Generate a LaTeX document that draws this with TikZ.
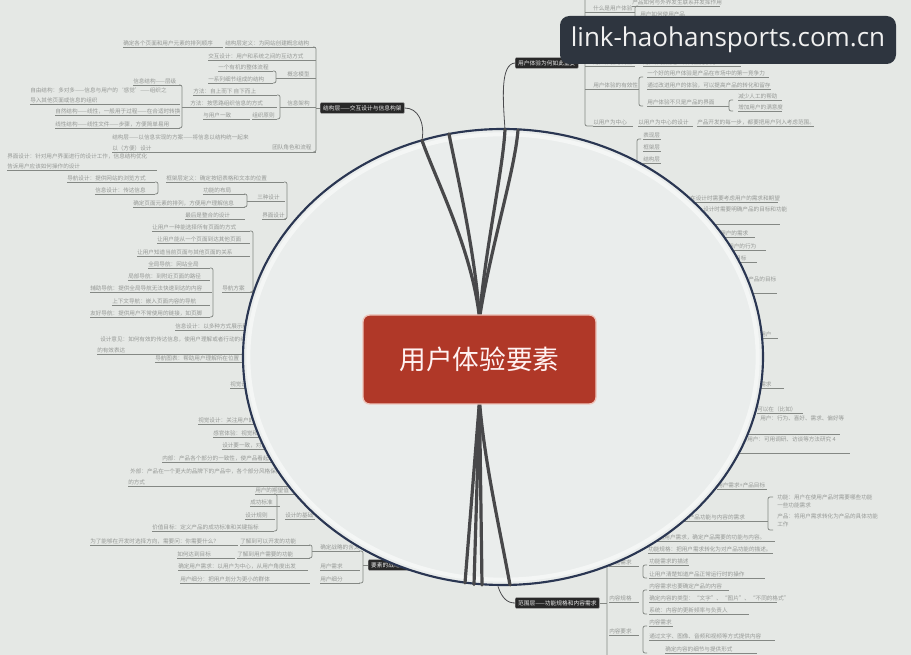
\documentclass[tikz,border=0pt]{standalone}
\usepackage{fontspec}
\setmainfont{Noto Sans CJK SC}
\newfontfamily\wmfont{Open Sans}
\usetikzlibrary{shapes.geometric}
\definecolor{bg}{RGB}{229,232,229}
\definecolor{inner}{RGB}{234,237,236}
\definecolor{ringc}{RGB}{42,54,82}
\definecolor{thk}{RGB}{72,72,74}
\definecolor{itemgray}{RGB}{150,153,150}
\definecolor{ulgray}{RGB}{132,136,132}
\definecolor{boxred}{RGB}{176,56,40}
\definecolor{boxedge}{RGB}{238,196,186}
\definecolor{labfill}{RGB}{40,40,40}
\definecolor{wmfill}{RGB}{46,53,63}
\definecolor{connc}{RGB}{75,75,78}
\begin{document}
\begin{tikzpicture}[x=0.75pt,y=-0.75pt,
  itm/.style={anchor=base west,inner sep=0pt,font=\fontsize{4.2}{5}\selectfont,text=itemgray},
  uline/.style={draw=ulgray,line width=0.55pt},
  brk/.style={draw=ulgray,line width=0.55pt,rounded corners=1.5pt},
  darklab/.style={anchor=west,fill=labfill,draw=gray!70,line width=0.3pt,text=white!92!black,
    font=\fontsize{4.3}{5}\selectfont,inner xsep=2.2pt,inner ysep=2pt,rounded corners=0.8pt},
  conn/.style={draw=connc,line width=0.6pt},
  thick line/.style={draw=thk,line width=2.4pt,line cap=round},
  boxst/.style={fill=boxred,draw=boxedge,line width=1pt,rounded corners=5pt,
    minimum width=174.75pt,minimum height=66.75pt,text=white!95!red,font=\fontsize{20}{24}\selectfont},
  wmst/.style={fill=wmfill,rounded corners=7pt,minimum width=252pt,minimum height=36pt,
    text=white!94!black,font=\wmfont\fontsize{19.5}{22}\selectfont}
]
\fill[bg] (0,0) rectangle (911,655);
\useasboundingbox (0,0) rectangle (911,655);

% ---------- underlined items ----------
\foreach \x/\y/\w/\tx [count=\i] in {
 123/47/100/确定各个页面和用户元素的排列顺序,
 225/47/91/结构层定义：为网站创建概念结构,
 208/60/108/交互设计：用户和系统之间的互动方式,
 218/71/55/一个有机的整体流程,
 208/83/65/一系列细节组成的结构,
 287/78/29/概念模型,
 193/95/84/方法：自上而下 自下而上,
 190/107/87/方法：按思路组织信息的方式,
 203/119/47/与用户一致,
 252/119/25/组织原则,
 287/107/29/信息架构,
 133/85/48/信息结构——层级,
 30/104/150/导入其他页面或信息的组织,
 55/115/125/自然结构——线性，一般用于过程——在合适时转换,
 55/128/125/线性结构——线性文件——步骤，方便简单易用,
 112/152/204/以（方便）设计,
 7/170/150/告诉用户应该如何操作的设计,
 67/182/88/导航设计：提供网站的浏览方式,
 95/194/60/信息设计：传达信息,
 166/182/118/框架层定义：确定按钮表格和文本的位置,
 203/194/42/功能的布局,
 257/201/28/三种设计,
 133/207/112/确定页面元素的排列，方便用户理解信息,
 185/219/60/最后是整合的设计,
 262/219/24/界面设计,
 152/231/98/让用户一种能选择所有页面的方式,
 157/243/93/让用户能从一个页面到达其他页面,
 137/256/113/让用户知道当前页面与其他页面的关系,
 148/268/62/全局导航：网站全局,
 128/280/82/局部导航：到附近页面的路径,
 90/292/122/辅助导航：提供全局导航无法快速到达的内容,
 222/292/31/导航方案,
 112/305/98/上下文导航：嵌入页面内容的导航,
 90/317/120/友好导航：提供用户不常使用的链接，如页脚,
 175/330/80/信息设计：以多种方式展示和传达信息,
 97/354/150/的有效表达,
 155/362/95/导航图表：帮助用户理解所在位置,
 230/388/20/视觉设计,
 198/424/65/视觉设计：关注用户的感知,
 213/437/55/感官体验：视觉和听觉,
 222/449/50/设计要一致，对比与统一,
 162/462/115/内部：产品各个部分的一致性，使产品看起来更统一,
 128/486/165/的方式,
 255/494/40/用户的期望值,
 250/506/30/成功标准,
 245/519/30/设计规则,
 285/519/30/设计的基础,
 152/531/122/价值目标：定义产品的成功标准和关键指标,
 90/545/148/为了能够在开发时选择方向，需要问：你需要什么？,
 240/545/70/了解到可以开发的功能,
 177/558/58/如何达到目标,
 237/558/73/了解到用户需要的功能,
 320/551/40/确定战略的含义,
 178/570/130/确定用户需求：以用户为中心，从用户角度出发,
 320/570/40/用户需求,
 180/583/130/用户细分：把用户划分为更小的群体,
 320/583/40/用户细分,
 632/6/88/产品如何与外界发生联系并发挥作用,
 593/12/36/什么是用户体验,
 640/18/55/用户如何使用产品,
 593/66/42/用户体验与商业,
 643/66/98/用户体验就是一种商业竞争力,
 647/77/122/一个好的用户体验是产品在市场中的第一竞争力,
 593/89/42/用户体验的有效性,
 647/89/124/通过改进用户的体验，可以提高产品的转化和留存,
 647/106/82/用户体验不只是产品的界面,
 738/100/44/减少人工的帮助,
 738/111/44/增加用户的满意度,
 593/126/40/以用户为中心,
 638/126/55/以用户为中心的设计,
 697/126/117/产品开发的每一步，都要把用户列入考虑范围。,
 643/139/18/表现层,
 643/151/18/框架层,
 643/163/18/结构层,
 690/202/88/在设计时需要考虑用户的需求和期望,
 720/237/35/用户的需求,
 728/250/38/用户的行为,
 735/262/22/目标,
 760/338/18/用户,
 760/388/24/需求,
 757/413/46/可以在（比如）,
 717/489/50/用户需求+产品目标,
 683/521/85/对产品功能与内容的需求,
 653/541/122/根据用户需求，确定产品需要的功能与内容。,
 648/553/125/功能规格：把用户需求转化为对产品功能的描述。,
 609/566/30/功能需求,
 649/565/40/功能需求的描述,
 649/578/116/让用户清楚知道产品正常运行时的操作,
 649/590/80/内容需求也要确定产品的内容,
 609/602/30/内容规格,
 649/602/128/确定内容的类型：“文字”、“图片”、“不同的格式”,
 649/614/100/系统：内容的更新频率与负责人,
 649/626/24/内容需求,
 609/635/30/内容要求,
 649/640/126/通过文字、图像、音频和视频等方式提供内容,
 665/653/92/确定内容的细节与提供形式}
{
  \node[itm] (a\i) at (\x,\y-1.6) {\tx};
  \draw[uline] (\x,\y) -- ++(\w,0);
}

% ---------- plain text lines (first lines of two-line items) ----------
\foreach \x/\y/\tx [count=\i] in {
 30/93/自由结构：多对多——信息与用户的‘感觉’——组织之,
 112/140/结构层——以信息实现的方案——将信息以结构统一起来,
 272/150/团队角色和流程,
 7/159/界面设计：针对用户界面进行的设计工作，信息结构优化,
 100/342/设计意见：如何有效的传达信息，使用户理解或者行动的组织方式,
 130/474/外部：产品在一个更大的品牌下的产品中，各个部分风格保持一致,
 703/212/设计时需要明确产品的目标和功能,
 748/282/产品的目标,
 760/421/用户：行为、喜好、需求、偏好等,
 747/442/用户：可用调研、访谈等方法研究 4,
 777/500/功能：用户在使用产品时需要哪些功能,
 777/508/一些功能需求,
 777/519/产品：将用户需求转化为产品的具体功能,
 777/527/工作}
{
  \node[itm] (p\i) at (\x,\y) {\tx};
}

% ---------- underlines without text ----------
\foreach \x/\y/\w in {700/224/80, 745/293/32, 748/434/92, 740/453/110}
  \draw[uline] (\x,\y) -- ++(\w,0);

% ---------- brackets ----------
\draw[brk] (313,47) -- (316,47) -- (316,152) -- (313,152);
\draw[brk] (273,71) -- (276,71) -- (276,83) -- (273,83);
\draw[uline] (276,78) -- (287,78);
\draw[brk] (277,95) -- (280,95) -- (280,119) -- (277,119);
\draw[uline] (280,107) -- (287,107);
\draw[brk] (179,85) -- (182,85) -- (182,128) -- (179,128);
\draw[uline] (182,107) -- (190,107);
\draw[brk] (155,182) -- (158,182) -- (158,194) -- (155,194);
\draw[brk] (244,194) -- (247,194) -- (247,207) -- (244,207);
\draw[uline] (247,201) -- (257,201);
\draw[brk] (284,182) -- (287,182) -- (287,219) -- (284,219);
\draw[brk] (250,231) -- (253,231) -- (253,292) -- (250,292);
\draw[brk] (210,268) -- (213,268) -- (213,317) -- (210,317);
\draw[brk] (274,494) -- (277,494) -- (277,531) -- (274,531);
\draw[brk] (309,545) -- (312,545) -- (312,558) -- (309,558);
\draw[uline] (312,551) -- (320,551);
\draw[brk] (359,551) -- (363,551) -- (363,583) -- (359,583);
\draw[brk] (585,-2) -- (585,126) -- (593,126);
\foreach \yy in {12,66,89} \draw[uline] (585,\yy) -- (593,\yy);
\draw[brk] (638,6) -- (635,6) -- (635,18) -- (638,18);
\draw[uline] (629,12) -- (635,12);
\draw[brk] (643,77) -- (639,77) -- (639,106) -- (643,106);
\draw[uline] (635,89) -- (639,89);
\draw[brk] (733,100) -- (729,100) -- (729,111) -- (733,111);
\draw[brk] (641,139) -- (637,139) -- (637,163) -- (641,163);
\draw[brk] (773,497) -- (768,497) -- (768,530) -- (773,530);
\draw[brk] (612,541) -- (607,541) -- (607,658);
\draw[brk] (647,565) -- (643,565) -- (643,578) -- (647,578);
\draw[brk] (647,590) -- (643,590) -- (643,614) -- (647,614);
\draw[brk] (647,626) -- (643,626) -- (643,653) -- (647,653);

% ---------- dark branch label partly under the ring ----------
\node[darklab] (l4) at (368,565) {要素的战略层——产品目标};
\draw[uline] (363,565) -- (l4.west);

% ---------- the ring ----------
\node[ellipse,draw=ringc,line width=1.6pt,fill=inner,minimum width=390pt,minimum height=342pt,inner sep=0pt] (ring) at (503,357) {};
\node[ellipse,draw=white,draw opacity=0.5,line width=3pt,minimum width=382pt,minimum height=334pt,inner sep=0pt] (glow) at (503,357) {};

% ---------- centre ----------
\coordinate (t1) at (422,140.5);
\coordinate (t2) at (449,134);
\coordinate (t3) at (505,129.5);
\coordinate (t4) at (518,130);
\coordinate (b1) at (465,583);
\coordinate (b2) at (474,584.5);
\coordinate (b3) at (482,585);
\coordinate (b4) at (510,585);
\coordinate (b5) at (498,586.5);
\coordinate (cn) at (479.5,318);
\coordinate (cs) at (479.5,401);
\draw[thick line] (cn) .. controls (472,250) and (436,180) .. (t1);
\draw[thick line] (cn) .. controls (475,250) and (456,170) .. (t2);
\draw[thick line] (cn) .. controls (485,250) and (503,170) .. (t3);
\draw[thick line] (cn) .. controls (490,250) and (515,170) .. (t4);
\draw[thick line] (cs) -- (b1);
\draw[thick line] (cs) -- (b2);
\draw[thick line] (cs) -- (b3);
\draw[thick line] (cs) .. controls (484,460) and (500,530) .. (b4);
\node[boxst] (c) at (479.5,359.5) {用户体验要素};

% ---------- outer branch labels ----------
\node[darklab] (l1) at (320,108) {结构层——交互设计与信息构架};
\node[darklab] (l2) at (515,63) {用户体验为何如此重要};
\node[darklab] (l3) at (515,603) {范围层——功能规格和内容需求};
\draw[conn] (t1) .. controls (425,122) and (418,108) .. (l1.east);
\draw[uline] (316,108) -- (l1.west);
\draw[conn] (t3) .. controls (503,100) and (500,64) .. (l2.west);
\draw[uline] (l2.east) -- (585,63);
\draw[conn] (b5) .. controls (502,598) and (507,603) .. (l3.west);
\draw[uline] (l3.east) -- (607,603);

% ---------- watermark ----------
\node[wmst] (wm) at (728,40) {link-haohansports.com.cn};
\end{tikzpicture}
\end{document}
